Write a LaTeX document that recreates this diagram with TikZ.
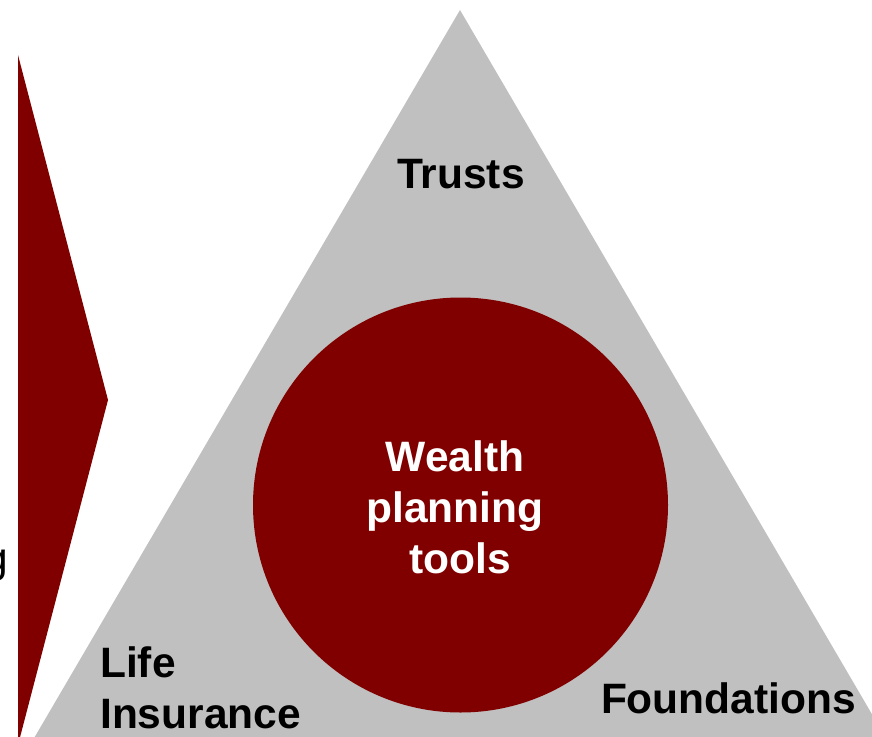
\documentclass[tikz,border=0pt]{standalone}
\usepackage{fontspec}
\setmainfont{Liberation Sans}
\definecolor{deepred}{RGB}{128,0,0}
\definecolor{panelgray}{RGB}{192,192,192}
\begin{document}
\begin{tikzpicture}[x=1pt,y=-1pt,
  bigtext/.style={font=\fontsize{42.5}{51}\selectfont\bfseries, inner sep=0pt},
  plaintext/.style={font=\fontsize{42.5}{51}\selectfont, inner sep=0pt},
  core/.style={circle, fill=deepred, draw=none, inner sep=0pt, minimum size=415pt}]
\useasboundingbox (0,0) rectangle (872,736);
% pointer on the left
\fill[deepred] (18,55) -- (108,400) -- (18,745) -- cycle;
% grey triangle behind the circle
\fill[panelgray] (460,10) -- (460-760*0.585,770) -- (460+760*0.585,770) -- cycle;
% central circle
\node[core] (hub) at (460.5,505) {};
\node[bigtext, white, align=center] (hubtext) at (455,507) {Wealth\\planning\\\hspace*{10pt}tools};
% corner labels
\node[bigtext, anchor=base] (trusts) at (461,188) {Trusts};
\node[bigtext, anchor=base] (found) at (728.5,713) {Foundations};
\node[bigtext, anchor=base west, align=left] (life) at (100,728) {Life\\Insurance};
% word running off the left edge
\node[plaintext, anchor=base east] (cut) at (8.5,572) {g};
\end{tikzpicture}
\end{document}
